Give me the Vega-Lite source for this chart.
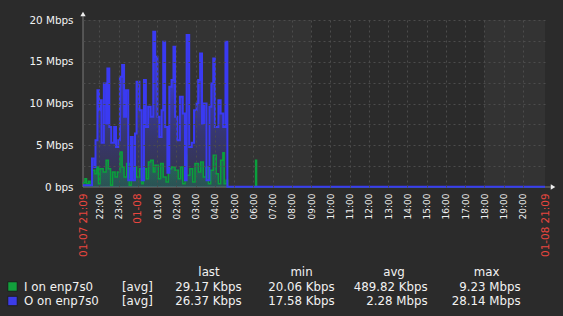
{
  "$schema": "https://vega.github.io/schema/vega-lite/v6.json",
  "width": 462,
  "height": 167,
  "autosize": {"type": "none"},
  "padding": {"left": 83, "top": 20, "right": 18, "bottom": 129},
  "background": "#2b2b2b",
  "config": {"view": {"stroke": null, "fill": "#333333"}, "font": "DejaVu Sans"},
  "datasets": {
    "out": [
      {"t": "2025-01-07T21:09Z", "v": 0.2}, {"t": "2025-01-07T21:37Z", "v": 3.4}, {"t": "2025-01-07T21:44Z", "v": 2.4},
      {"t": "2025-01-07T21:48Z", "v": 5.6}, {"t": "2025-01-07T21:54Z", "v": 11.6}, {"t": "2025-01-07T21:59Z", "v": 9.2},
      {"t": "2025-01-07T22:02Z", "v": 10.4}, {"t": "2025-01-07T22:07Z", "v": 5.3}, {"t": "2025-01-07T22:14Z", "v": 12.4},
      {"t": "2025-01-07T22:21Z", "v": 7.6}, {"t": "2025-01-07T22:25Z", "v": 14.2}, {"t": "2025-01-07T22:31Z", "v": 7.2},
      {"t": "2025-01-07T22:37Z", "v": 5.3}, {"t": "2025-01-07T22:46Z", "v": 7.2}, {"t": "2025-01-07T22:52Z", "v": 4.8},
      {"t": "2025-01-07T22:59Z", "v": 5.6}, {"t": "2025-01-07T23:04Z", "v": 13.2}, {"t": "2025-01-07T23:11Z", "v": 14.6},
      {"t": "2025-01-07T23:17Z", "v": 8.4}, {"t": "2025-01-07T23:23Z", "v": 11.6}, {"t": "2025-01-07T23:30Z", "v": 0.8},
      {"t": "2025-01-07T23:38Z", "v": 6.0}, {"t": "2025-01-07T23:44Z", "v": 0.8}, {"t": "2025-01-07T23:51Z", "v": 6.4},
      {"t": "2025-01-07T23:56Z", "v": 12.6}, {"t": "2025-01-08T00:05Z", "v": 9.2}, {"t": "2025-01-08T00:12Z", "v": 0.8},
      {"t": "2025-01-08T00:19Z", "v": 12.8}, {"t": "2025-01-08T00:25Z", "v": 7.2}, {"t": "2025-01-08T00:32Z", "v": 9.6},
      {"t": "2025-01-08T00:40Z", "v": 8.4}, {"t": "2025-01-08T00:48Z", "v": 18.6}, {"t": "2025-01-08T00:54Z", "v": 15.6},
      {"t": "2025-01-08T01:01Z", "v": 8.4}, {"t": "2025-01-08T01:07Z", "v": 6.0}, {"t": "2025-01-08T01:14Z", "v": 9.2},
      {"t": "2025-01-08T01:19Z", "v": 17.4}, {"t": "2025-01-08T01:25Z", "v": 7.2}, {"t": "2025-01-08T01:32Z", "v": 1.7},
      {"t": "2025-01-08T01:38Z", "v": 12.0}, {"t": "2025-01-08T01:45Z", "v": 12.8}, {"t": "2025-01-08T01:51Z", "v": 16.8},
      {"t": "2025-01-08T01:56Z", "v": 8.4}, {"t": "2025-01-08T02:03Z", "v": 5.6}, {"t": "2025-01-08T02:11Z", "v": 10.8},
      {"t": "2025-01-08T02:20Z", "v": 8.8}, {"t": "2025-01-08T02:27Z", "v": 0.8}, {"t": "2025-01-08T02:32Z", "v": 18.2},
      {"t": "2025-01-08T02:40Z", "v": 4.8}, {"t": "2025-01-08T02:48Z", "v": 5.3}, {"t": "2025-01-08T02:55Z", "v": 9.2},
      {"t": "2025-01-08T03:03Z", "v": 10.0}, {"t": "2025-01-08T03:08Z", "v": 12.8}, {"t": "2025-01-08T03:14Z", "v": 16.0},
      {"t": "2025-01-08T03:20Z", "v": 7.6}, {"t": "2025-01-08T03:26Z", "v": 10.0}, {"t": "2025-01-08T03:34Z", "v": 0.8},
      {"t": "2025-01-08T03:43Z", "v": 9.6}, {"t": "2025-01-08T03:49Z", "v": 12.4}, {"t": "2025-01-08T03:55Z", "v": 15.4},
      {"t": "2025-01-08T04:00Z", "v": 7.2}, {"t": "2025-01-08T04:11Z", "v": 10.4}, {"t": "2025-01-08T04:18Z", "v": 8.8},
      {"t": "2025-01-08T04:26Z", "v": 7.2}, {"t": "2025-01-08T04:33Z", "v": 17.4}, {"t": "2025-01-08T04:39Z", "v": 0.03},
      {"t": "2025-01-08T21:09Z", "v": 0.03}
    ],
    "inn": [
      {"t": "2025-01-07T21:09Z", "v": 0.5}, {"t": "2025-01-07T21:15Z", "v": 1.0}, {"t": "2025-01-07T21:20Z", "v": 0.4},
      {"t": "2025-01-07T21:26Z", "v": 0.7}, {"t": "2025-01-07T21:31Z", "v": 0.2}, {"t": "2025-01-07T21:37Z", "v": 2.0},
      {"t": "2025-01-07T21:46Z", "v": 1.6}, {"t": "2025-01-07T21:52Z", "v": 2.4}, {"t": "2025-01-07T21:57Z", "v": 0.4},
      {"t": "2025-01-07T22:02Z", "v": 2.2}, {"t": "2025-01-07T22:12Z", "v": 1.8}, {"t": "2025-01-07T22:21Z", "v": 3.2},
      {"t": "2025-01-07T22:28Z", "v": 2.2}, {"t": "2025-01-07T22:35Z", "v": 0.2}, {"t": "2025-01-07T22:41Z", "v": 1.8},
      {"t": "2025-01-07T22:49Z", "v": 1.2}, {"t": "2025-01-07T22:56Z", "v": 1.8}, {"t": "2025-01-07T23:04Z", "v": 4.2},
      {"t": "2025-01-07T23:11Z", "v": 2.4}, {"t": "2025-01-07T23:17Z", "v": 1.2}, {"t": "2025-01-07T23:25Z", "v": 2.8},
      {"t": "2025-01-07T23:33Z", "v": 0.2}, {"t": "2025-01-07T23:39Z", "v": 2.0}, {"t": "2025-01-07T23:46Z", "v": 2.4},
      {"t": "2025-01-07T23:56Z", "v": 1.2}, {"t": "2025-01-08T00:05Z", "v": 2.2}, {"t": "2025-01-08T00:12Z", "v": 0.4},
      {"t": "2025-01-08T00:17Z", "v": 2.2}, {"t": "2025-01-08T00:27Z", "v": 1.0}, {"t": "2025-01-08T00:33Z", "v": 3.0},
      {"t": "2025-01-08T00:40Z", "v": 3.2}, {"t": "2025-01-08T00:48Z", "v": 1.8}, {"t": "2025-01-08T00:53Z", "v": 2.6},
      {"t": "2025-01-08T01:04Z", "v": 1.0}, {"t": "2025-01-08T01:11Z", "v": 2.8}, {"t": "2025-01-08T01:19Z", "v": 1.2},
      {"t": "2025-01-08T01:28Z", "v": 0.6}, {"t": "2025-01-08T01:35Z", "v": 2.2}, {"t": "2025-01-08T01:45Z", "v": 2.4},
      {"t": "2025-01-08T01:56Z", "v": 2.0}, {"t": "2025-01-08T02:06Z", "v": 1.0}, {"t": "2025-01-08T02:13Z", "v": 2.4},
      {"t": "2025-01-08T02:20Z", "v": 0.4}, {"t": "2025-01-08T02:27Z", "v": 3.8}, {"t": "2025-01-08T02:32Z", "v": 1.4},
      {"t": "2025-01-08T02:42Z", "v": 2.2}, {"t": "2025-01-08T02:51Z", "v": 0.6}, {"t": "2025-01-08T02:58Z", "v": 2.8},
      {"t": "2025-01-08T03:09Z", "v": 1.8}, {"t": "2025-01-08T03:16Z", "v": 3.0}, {"t": "2025-01-08T03:24Z", "v": 1.2},
      {"t": "2025-01-08T03:32Z", "v": 2.4}, {"t": "2025-01-08T03:40Z", "v": 0.4}, {"t": "2025-01-08T03:47Z", "v": 2.0},
      {"t": "2025-01-08T03:55Z", "v": 3.8}, {"t": "2025-01-08T04:04Z", "v": 1.6}, {"t": "2025-01-08T04:11Z", "v": 0.4},
      {"t": "2025-01-08T04:18Z", "v": 3.2}, {"t": "2025-01-08T04:25Z", "v": 4.1}, {"t": "2025-01-08T04:29Z", "v": 0.4},
      {"t": "2025-01-08T04:35Z", "v": 0.8}, {"t": "2025-01-08T04:40Z", "v": 0.02}, {"t": "2025-01-08T06:07Z", "v": 3.2},
      {"t": "2025-01-08T06:10Z", "v": 0.02}, {"t": "2025-01-08T21:09Z", "v": 0.02}
    ],
    "worktime": [{"a": "2025-01-08T09:00Z", "b": "2025-01-08T18:00Z"}],
    "legHead": [
      {"row": "h", "col": "last", "text": "last"}, {"row": "h", "col": "min", "text": "min"},
      {"row": "h", "col": "avg", "text": "avg"}, {"row": "h", "col": "max", "text": "max"}
    ],
    "legNames": [
      {"row": "I", "col": "name", "text": "I on enp7s0"}, {"row": "I", "col": "fn", "text": "[avg]"},
      {"row": "O", "col": "name", "text": "O on enp7s0"}, {"row": "O", "col": "fn", "text": "[avg]"}
    ],
    "legVals": [
      {"row": "I", "col": "last", "text": "29.17 Kbps"}, {"row": "I", "col": "min", "text": "20.06 Kbps"},
      {"row": "I", "col": "avg", "text": "489.82 Kbps"}, {"row": "I", "col": "max", "text": "9.23 Mbps"},
      {"row": "O", "col": "last", "text": "26.37 Kbps"}, {"row": "O", "col": "min", "text": "17.58 Kbps"},
      {"row": "O", "col": "avg", "text": "2.28 Mbps"}, {"row": "O", "col": "max", "text": "28.14 Mbps"}
    ],
    "legSw": [{"row": "I", "col": "sw", "series": "I"}, {"row": "O", "col": "sw", "series": "O"}],
    "one": [{}]
  },
  "layer": [
    {
      "layer": [
        {
          "data": {"name": "worktime"},
          "mark": {"type": "rect", "color": "#2b2b2b"},
          "encoding": {
            "x": {
              "field": "a", "type": "temporal",
              "scale": {"type": "utc", "domain": [
                {"year": 2025, "month": 1, "date": 7, "hours": 21, "minutes": 9, "utc": true},
                {"year": 2025, "month": 1, "date": 8, "hours": 21, "minutes": 9, "utc": true}]},
              "axis": {
                "title": null, "zindex": 1, "domain": false, "ticks": false, "tickSize": 0, "tickCount": 100,
                "values": [1736284140000, 1736287200000, 1736290800000, 1736294400000, 1736298000000, 1736301600000,
                  1736305200000, 1736308800000, 1736312400000, 1736316000000, 1736319600000, 1736323200000,
                  1736326800000, 1736330400000, 1736334000000, 1736337600000, 1736341200000, 1736344800000,
                  1736348400000, 1736352000000, 1736355600000, 1736359200000, 1736362800000, 1736366400000, 1736370540000],
                "labelExpr": "utcFormat(datum.value,'%H:%M')=='21:09' ? utcFormat(datum.value,'%m-%d %H:%M') : (utcFormat(datum.value,'%H:%M')=='00:00' ? utcFormat(datum.value,'%m-%d') : utcFormat(datum.value,'%H:%M'))",
                "labelAngle": 270, "labelAlign": "right", "labelBaseline": "middle", "labelPadding": 6,
                "labelOverlap": false, "labelBound": false, "labelFlush": false,
                "labelFont": "DejaVu Sans",
                "labelColor": {"condition": {"test": "utcFormat(datum.value,'%M')!='00' || utcFormat(datum.value,'%H')=='00'", "value": "#e8463f"}, "value": "#f2f2f2"},
                "labelFontSize": {"condition": {"test": "utcFormat(datum.value,'%M')!='00' || utcFormat(datum.value,'%H')=='00'", "value": 10.4}, "value": 9},
                "grid": true, "gridColor": "#4c4c4c", "gridDash": [2, 3],
                "gridOpacity": {"condition": {"test": "utcFormat(datum.value,'%M')!='00'", "value": 0}, "value": 1}
              }
            },
            "x2": {"field": "b"},
            "y": {
              "datum": 20, "type": "quantitative",
              "scale": {"domain": [0, 20], "nice": false, "zero": true},
              "axis": {
                "title": null, "zindex": 1, "domain": false, "ticks": false, "tickSize": 0, "tickCount": 100,
                "values": [0, 2.5, 5, 7.5, 10, 12.5, 15, 17.5, 20],
                "labelExpr": "datum.value % 5 == 0 ? (datum.value == 0 ? '0 bps' : datum.value + ' Mbps') : ''",
                "labelPadding": 10, "labelFontSize": 10.4, "labelColor": "#f2f2f2", "labelFont": "DejaVu Sans",
                "labelBaseline": "middle", "labelOverlap": false, "labelBound": false, "labelFlush": false,
                "grid": true, "gridColor": "#4c4c4c", "gridDash": [2, 3],
                "gridOpacity": {"condition": {"test": "datum.value == 0", "value": 0}, "value": 1}
              }
            },
            "y2": {"datum": 0}
          }
        },
        {
          "data": {"name": "one"},
          "mark": {"type": "rule", "color": "#7a7a7a", "strokeWidth": 1, "clip": false},
          "encoding": {
            "x": {"datum": {"year": 2025, "month": 1, "date": 7, "hours": 21, "minutes": 9, "utc": true}, "type": "temporal"},
            "y": {"datum": 0, "type": "quantitative"},
            "y2": {"datum": 20.5}
          }
        },
        {
          "data": {"name": "one"},
          "mark": {"type": "rule", "color": "#7a7a7a", "strokeWidth": 1, "clip": false},
          "encoding": {
            "x": {"datum": {"year": 2025, "month": 1, "date": 7, "hours": 21, "minutes": 9, "utc": true}, "type": "temporal"},
            "x2": {"datum": {"year": 2025, "month": 1, "date": 8, "hours": 21, "minutes": 27, "utc": true}},
            "y": {"datum": 0, "type": "quantitative"}
          }
        },
        {
          "data": {"name": "out"},
          "mark": {"type": "area", "interpolate": "step-after",
            "color": {"gradient": "linear", "x1": 0, "y1": 0, "x2": 0, "y2": 1, "stops": [
              {"offset": 0, "color": "rgba(60,60,240,1)"},
              {"offset": 0.35, "color": "rgba(60,60,220,0.8)"},
              {"offset": 0.65, "color": "rgba(60,60,190,0.45)"},
              {"offset": 1, "color": "rgba(60,60,160,0.2)"}]}},
          "encoding": {"x": {"field": "t", "type": "temporal"}, "y": {"field": "v", "type": "quantitative"}}
        },
        {
          "data": {"name": "inn"},
          "mark": {"type": "area", "interpolate": "step-after",
            "color": {"gradient": "linear", "x1": 0, "y1": 0, "x2": 0, "y2": 1, "stops": [
              {"offset": 0, "color": "rgba(20,160,70,0.55)"},
              {"offset": 1, "color": "rgba(20,150,110,0.3)"}]}},
          "encoding": {"x": {"field": "t", "type": "temporal"}, "y": {"field": "v", "type": "quantitative"}}
        },
        {
          "data": {"name": "inn"},
          "mark": {"type": "line", "interpolate": "step-after", "color": "#0aa03c", "strokeWidth": 1.5},
          "encoding": {"x": {"field": "t", "type": "temporal"}, "y": {"field": "v", "type": "quantitative"}}
        },
        {
          "data": {"name": "out"},
          "mark": {"type": "line", "interpolate": "step-after", "color": "#3a3af2", "strokeWidth": 2},
          "encoding": {"x": {"field": "t", "type": "temporal"}, "y": {"field": "v", "type": "quantitative"}}
        },
        {
          "data": {"name": "one"},
          "mark": {"type": "point", "shape": "triangle-up", "filled": true, "color": "#eeeeee", "size": 28, "opacity": 1, "clip": false},
          "encoding": {
            "x": {"datum": {"year": 2025, "month": 1, "date": 7, "hours": 21, "minutes": 9, "utc": true}, "type": "temporal"},
            "y": {"datum": 20.72, "type": "quantitative"}
          }
        },
        {
          "data": {"name": "one"},
          "mark": {"type": "point", "shape": "triangle-right", "filled": true, "color": "#eeeeee", "size": 28, "opacity": 1, "clip": false},
          "encoding": {
            "x": {"datum": {"year": 2025, "month": 1, "date": 8, "hours": 21, "minutes": 34, "utc": true}, "type": "temporal"},
            "y": {"datum": 0, "type": "quantitative"}
          }
        }
      ]
    },
    {
      "layer": [
        {
          "data": {"name": "legHead"},
          "mark": {"type": "text", "align": "center", "baseline": "middle", "fontSize": 11.8, "color": "#f2f2f2", "font": "DejaVu Sans"},
          "encoding": {
            "x": {"field": "col", "type": "nominal", "axis": null, "scale": {"type": "point", "domain": ["last", "min", "avg", "max"], "range": [126, 403.5], "padding": 0}},
            "y": {"field": "row", "type": "nominal", "axis": null, "scale": {"type": "point", "domain": ["h", "I", "O"], "range": [252, 281], "padding": 0}},
            "text": {"field": "text"}
          }
        },
        {
          "data": {"name": "legNames"},
          "mark": {"type": "text", "align": "left", "baseline": "middle", "fontSize": 11.8, "color": "#f2f2f2", "font": "DejaVu Sans"},
          "encoding": {
            "x": {"field": "col", "type": "nominal", "axis": null, "scale": {"type": "point", "domain": ["name", "fn"], "range": [-59, 39], "padding": 0}},
            "y": {"field": "row", "type": "nominal", "axis": null},
            "text": {"field": "text"}
          }
        },
        {
          "data": {"name": "legVals"},
          "mark": {"type": "text", "align": "right", "baseline": "middle", "fontSize": 11.8, "color": "#f2f2f2", "font": "DejaVu Sans"},
          "encoding": {
            "x": {"field": "col", "type": "nominal", "axis": null, "scale": {"type": "point", "domain": ["last", "min", "avg", "max"], "range": [158.6, 437.6], "padding": 0}},
            "y": {"field": "row", "type": "nominal", "axis": null},
            "text": {"field": "text"}
          }
        },
        {
          "data": {"name": "legSw"},
          "mark": {"type": "point", "shape": "square", "filled": true, "size": 90, "opacity": 1, "stroke": "#1e1e1e", "strokeWidth": 1},
          "encoding": {
            "x": {"field": "col", "type": "nominal", "axis": null, "scale": {"type": "point", "domain": ["sw"], "range": [-76, -65], "padding": 0}},
            "y": {"field": "row", "type": "nominal", "axis": null},
            "color": {"field": "series", "type": "nominal", "legend": null, "scale": {"domain": ["I", "O"], "range": ["#12a03c", "#3c3ce8"]}}
          }
        }
      ],
      "resolve": {"scale": {"x": "independent"}}
    }
  ],
  "resolve": {"scale": {"x": "independent", "y": "independent"}}
}
